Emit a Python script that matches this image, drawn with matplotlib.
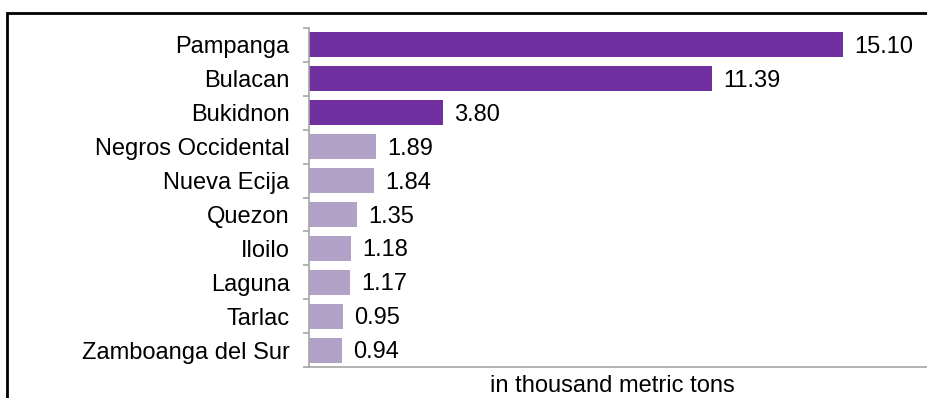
import matplotlib
matplotlib.use('Agg')
import matplotlib.pyplot as plt
from matplotlib.patches import Rectangle

provinces = ['Pampanga', 'Bulacan', 'Bukidnon', 'Negros Occidental', 'Nueva Ecija',
             'Quezon', 'Iloilo', 'Laguna', 'Tarlac', 'Zamboanga del Sur']
volumes = [15.10, 11.39, 3.80, 1.89, 1.84, 1.35, 1.18, 1.17, 0.95, 0.94]
top_n = 3  # top producers get the dark colour

dark = '#7030A0'
light = '#B3A2C7'
grey = '#A6A6A6'

plt.rcParams['font.family'] = ['Liberation Sans', 'DejaVu Sans']

W, H = 928, 398
fig = plt.figure(figsize=(W / 100, H / 100), dpi=100)
ax = fig.add_axes([309 / W, 1 - 367 / H, 1 - 309 / W, (367 - 28) / H])

ypos = list(range(len(provinces)))
colors = [dark if i < top_n else light for i in ypos]
ax.barh(ypos, volumes, height=0.735, color=colors, zorder=2)

for y, v in zip(ypos, volumes):
    ax.annotate('{0:0.2f}'.format(v), xy=(v, y), xytext=(8, -1.5), textcoords='offset points',
                va='center', ha='left', fontsize=17, color='black')

ax.set_xlim(0, (W - 309) / 35.36)
ax.set_ylim(len(provinces) - 0.5, -0.5)

ax.set_yticks(ypos)
ax.set_yticklabels(provinces, fontsize=17)
ax.set_yticks([i - 0.5 for i in range(len(provinces) + 1)], minor=True)
ax.tick_params(axis='y', which='major', length=0, pad=14)
ax.tick_params(axis='y', which='minor', length=4.5, width=1.2, color=grey)
ax.set_xticks([])

for s in ['top', 'right']:
    ax.spines[s].set_visible(False)
for s in ['left', 'bottom']:
    ax.spines[s].set_color(grey)
    ax.spines[s].set_linewidth(1.2)

fig.text(612 / W, 1 - 386 / H, 'in thousand metric tons', ha='center', va='center', fontsize=17)

# outer chart frame, running past the right and bottom edges
fig.patches.append(Rectangle((7 / W, -0.2), 1.2, 1.2 - 13 / H,
                             transform=fig.transFigure, fill=False,
                             edgecolor='black', linewidth=2, zorder=5))

fig.savefig('out.png', dpi=100)
